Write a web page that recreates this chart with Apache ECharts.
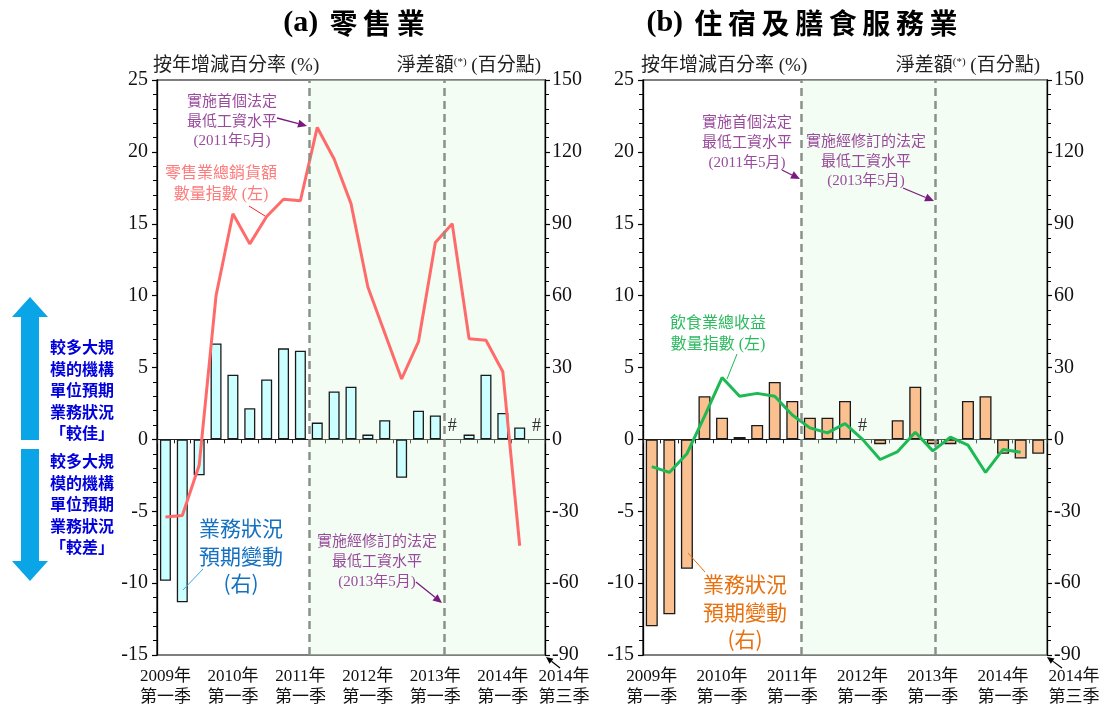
<!DOCTYPE html>
<html><head><meta charset="utf-8">
<script src="https://cdn.jsdelivr.net/npm/echarts@6/dist/echarts.min.js"></script>
<style>html,body{margin:0;padding:0;background:#fff}#c{width:1099px;height:711px}</style>
</head><body><div id="c"></div>
<script>
// ---------- data ----------
const categories = ['2009Q1','2009Q2','2009Q3','2009Q4','2010Q1','2010Q2','2010Q3','2010Q4',
  '2011Q1','2011Q2','2011Q3','2011Q4','2012Q1','2012Q2','2012Q3','2012Q4',
  '2013Q1','2013Q2','2013Q3','2013Q4','2014Q1','2014Q2','2014Q3'];
const tickLabels = {'2009Q1':'2009年\n第一季','2010Q1':'2010年\n第一季','2011Q1':'2011年\n第一季',
  '2012Q1':'2012年\n第一季','2013Q1':'2013年\n第一季','2014Q1':'2014年\n第一季'};
const lastTickLabel = '2014年\n第三季';
// (a) retail: sales volume index, YoY % (left axis)
const retailVolume = [-5.4,-5.3,-1.8,10.0,15.7,13.6,15.5,16.7,16.6,21.7,19.5,16.4,10.6,7.4,4.2,6.8,13.7,15.0,7.0,6.9,4.7,-7.4];
// (a) retail: net balance of business expectations, % points (right axis); null = "#"
const retailNetBalance = [-59,-68,-15,40,27,13,25,38,37,7,20,22,2,8,-16,12,10,null,2,27,11,5,null];
// (b) accommodation & food: restaurant receipts volume index, YoY % (left axis)
const foodVolume = [-1.9,-2.3,-1.0,1.6,4.3,3.0,3.2,3.0,1.7,0.8,0.45,1.1,0.0,-1.4,-0.85,0.5,-0.8,0.15,-0.4,-2.3,-0.7,-0.9];
// (b) net balance (right axis); null = "#"
const foodNetBalance = [-78,-73,-54,18,9,1,6,24,16,9,9,16,null,-2,8,22,-2,-2,16,18,-6,-8,-6];
const leftTicks = {min:-15, max:25, interval:5};
const rightTicks = {min:-90, max:150, interval:30};
const shadeStart = '2011Q2';
const eventsA = [categories.indexOf('2011Q2'), categories.indexOf('2013Q2')];
const eventsB = [categories.indexOf('2011Q2'), categories.indexOf('2013Q2') - 0.35];

// ---------- styling ----------
const SERIF = "'Liberation Serif','Times New Roman','Noto Sans CJK TC',serif";
const CJK = "'Noto Sans CJK TC','Liberation Serif',sans-serif";
const PURPLE = '#9a4a9c', PURPLE_D = '#7a1a80';

function buildPanel(gi, gridLeft, gridRight, barData, barColor, barWidth, lineData, lineColor, events) {
  const xAxes = [
    {type:'category', gridIndex:gi, position:'bottom', data:categories, boundaryGap:true,
     axisLine:{onZero:true, onZeroAxisIndex:2*gi, lineStyle:{color:'#222', width:1.2}},
     axisTick:{show:true, interval:0, length:4, lineStyle:{color:'#222', width:1}},
     axisLabel:{show:false}, splitLine:{show:false}},
    {type:'category', gridIndex:gi, position:'bottom', data:categories, boundaryGap:true,
     axisLine:{show:false, onZero:false}, axisTick:{show:false}, splitLine:{show:false},
     axisLabel:{interval:0, formatter:v => tickLabels[v] || '', fontFamily:SERIF, fontSize:17,
       lineHeight:21, color:'#111', margin:11}},
    {type:'value', gridIndex:gi, position:'top', min:0, max:categories.length, show:false}
  ];
  const yAxes = [
    {type:'value', gridIndex:gi, position:'left', min:leftTicks.min, max:leftTicks.max, interval:leftTicks.interval,
     axisLine:{show:true, onZero:false, lineStyle:{color:'#000', width:1.3}},
     axisTick:{show:true, length:5, lineStyle:{color:'#000', width:1.2}},
     minorTick:{show:true, splitNumber:5, length:4, lineStyle:{color:'#000', width:1}},
     splitLine:{show:false},
     axisLabel:{fontFamily:SERIF, fontSize:20, color:'#111', margin:9}},
    {type:'value', gridIndex:gi, position:'right', min:rightTicks.min, max:rightTicks.max, interval:rightTicks.interval,
     axisLine:{show:true, onZero:false, lineStyle:{color:'#000', width:1.3}},
     axisTick:{show:true, length:5, lineStyle:{color:'#000', width:1.2}},
     minorTick:{show:true, splitNumber:5, length:4, lineStyle:{color:'#000', width:1}},
     splitLine:{show:false},
     axisLabel:{fontFamily:SERIF, fontSize:20, color:'#111', margin:7}}
  ];
  const bars = barData.map(v => v === null
    ? {value:0, itemStyle:{borderWidth:0, color:'transparent'},
       label:{show:true, position:'top', formatter:'#', fontFamily:SERIF, fontSize:18, color:'#333', distance:4}}
    : v);
  const series = [
    {type:'bar', xAxisIndex:3*gi, yAxisIndex:2*gi+1, data:bars, barWidth:barWidth, z:2,
     itemStyle:{color:barColor, borderColor:'#1a1a1a', borderWidth:1.3}},
    {type:'line', xAxisIndex:3*gi, yAxisIndex:2*gi, data:lineData, symbol:'none', z:3,
     lineStyle:{color:lineColor, width:3}},
    {type:'line', xAxisIndex:3*gi+2, yAxisIndex:2*gi, data:[], z:5, silent:true,
     markArea:{silent:true, itemStyle:{color:'rgba(215,250,215,0.3)'},
       data:[[{xAxis:categories.indexOf(shadeStart)},{xAxis:categories.length}]]},
     markLine:{silent:true, symbol:'none', label:{show:false},
       lineStyle:{type:[8,5], color:'#8a918a', width:2.5},
       data:events.map(p => ({xAxis:p}))}}
  ];
  return {grid:{left:gridLeft, right:gridRight, top:80, bottom:56, show:true, borderColor:'#000', borderWidth:1.2, backgroundColor:'transparent'},
          xAxes, yAxes, series};
}

const pA = buildPanel(0, 157, 1099-545, retailNetBalance, '#ccffff', 11, retailVolume, '#ff6b6b', eventsA);
const pB = buildPanel(1, 643, 1099-1047, foodNetBalance, '#fac08f', 12, foodVolume, '#1db954', eventsB);

// ---------- annotations ----------
function txt(x, y, text, o) {
  o = o || {};
  return {type:'text', x:x, y:y, silent:true, z:100,
    style:{text:text, fill:o.color || '#111', fontFamily:o.font || SERIF, fontSize:o.size || 15,
      fontWeight:o.weight || 'normal', lineHeight:o.lh || undefined, align:o.align || 'center',
      verticalAlign:o.va || 'middle', rich:o.rich}};
}
function arrow(x1, y1, x2, y2, color, w, head) {
  const a = Math.atan2(y2 - y1, x2 - x1);
  const bx = x2 - head * Math.cos(a), by = y2 - head * Math.sin(a);
  const px = -Math.sin(a) * head * 0.45, py = Math.cos(a) * head * 0.45;
  return [
    {type:'line', silent:true, z:100, shape:{x1:x1, y1:y1, x2:bx, y2:by}, style:{stroke:color, lineWidth:w}},
    {type:'polygon', silent:true, z:100, shape:{points:[[x2,y2],[bx+px,by+py],[bx-px,by-py]]}, style:{fill:color}}
  ];
}
function seg(x1, y1, x2, y2, color, w) {
  return {type:'line', silent:true, z:100, shape:{x1:x1, y1:y1, x2:x2, y2:y2}, style:{stroke:color, lineWidth:w || 1}};
}
const supRich = {s:{fontFamily:SERIF, fontSize:11, padding:[0,0,8,0]}};
const titleRich = {a:{fontFamily:SERIF, fontSize:30, fontWeight:'bold', fill:'#000'},
                   b:{fontFamily:CJK, fontSize:28, fontWeight:'bold', fill:'#000'}};
const blueNote = '較多大規\n模的機構\n單位預期\n業務狀況';
const spaced = s => s.split('').join('\u2009');

const graphics = [
  txt(354, 23, '{a|(a)}   {b|' + spaced('零售業') + '}', {rich:titleRich}),
  txt(802, 23, '{a|(b)}   {b|' + spaced('住宿及膳食服務業') + '}', {rich:titleRich}),
  txt(153, 66, '按年增減百分率 (%)', {size:19, align:'left', color:'#222'}),
  txt(541, 66, '淨差額{s|(*)} (百分點)', {size:19, align:'right', color:'#222', rich:supRich}),
  txt(641, 66, '按年增減百分率 (%)', {size:19, align:'left', color:'#222'}),
  txt(1040, 66, '淨差額{s|(*)} (百分點)', {size:19, align:'right', color:'#222', rich:supRich}),
  // panel (a) notes
  txt(232, 122, '實施首個法定\n最低工資水平\n(2011年5月)', {color:PURPLE, size:15, lh:19.5}),
  ...arrow(277, 118, 307, 126, PURPLE_D, 1.3, 9),
  txt(221, 184, '零售業總銷貨額\n數量指數 (左)', {color:'#ff7b7b', size:16, lh:21}),
  seg(249, 206, 265, 216, '#ff2020', 1),
  txt(377, 562, '實施經修訂的法定\n最低工資水平\n(2013年5月)', {color:PURPLE, size:15, lh:20}),
  ...arrow(416, 582, 442, 603, PURPLE_D, 1.3, 9),
  txt(241, 556, '業務狀況\n預期變動\n(右)', {color:'#1470c0', size:21, lh:27.5, font:CJK}),
  seg(183, 590, 203, 569, '#33aaee', 1),
  // blue double arrow
  {type:'polygon', silent:true, z:100, shape:{points:[[30,297],[48,317],[39,317],[39,440],[21,440],[21,317],[12,317]]}, style:{fill:'#0aa5e6'}},
  {type:'polygon', silent:true, z:100, shape:{points:[[21,449],[39,449],[39,561],[48,561],[30,581],[12,561],[21,561]]}, style:{fill:'#0aa5e6'}},
  txt(82, 390, blueNote + '\n「較佳」', {color:'#0000dd', size:16, lh:21.5, weight:'bold', font:CJK}),
  txt(82, 504, blueNote + '\n「較差」', {color:'#0000dd', size:16, lh:21.5, weight:'bold', font:CJK}),
  // last tick (a)
  ...arrow(560, 668, 546, 657, '#000', 1.2, 7),
  txt(564, 687, lastTickLabel, {size:17, lh:21}),
  // panel (b) notes
  txt(718, 334, '飲食業總收益\n數量指數 (左)', {color:'#2dbb5f', size:16, lh:21}),
  seg(737, 354, 727, 379, '#1db954', 1),
  txt(747, 143, '實施首個法定\n最低工資水平\n(2011年5月)', {color:PURPLE, size:15, lh:20}),
  ...arrow(782, 170, 800, 179, PURPLE_D, 1.3, 9),
  txt(866, 162, '實施經修訂的法定\n最低工資水平\n(2013年5月)', {color:PURPLE, size:15, lh:19.5}),
  ...arrow(903, 188, 934, 201, PURPLE_D, 1.3, 9),
  txt(745, 612, '業務狀況\n預期變動\n(右)', {color:'#e8700f', size:21, lh:27.5, font:CJK}),
  seg(688, 553, 705, 572, '#e8700f', 1),
  ...arrow(1062, 668, 1047, 657, '#000', 1.2, 7),
  txt(1074, 687, lastTickLabel, {size:17, lh:21})
];

const option = {
  animation:false,
  backgroundColor:'#fff',
  textStyle:{fontFamily:SERIF},
  grid:[pA.grid, pB.grid],
  xAxis:[...pA.xAxes, ...pB.xAxes],
  yAxis:[...pA.yAxes, ...pB.yAxes],
  series:[...pA.series, ...pB.series],
  graphic:graphics
};
const chart = echarts.init(document.getElementById('c'), null, {renderer:'canvas'});
chart.setOption(option);
</script></body></html>
